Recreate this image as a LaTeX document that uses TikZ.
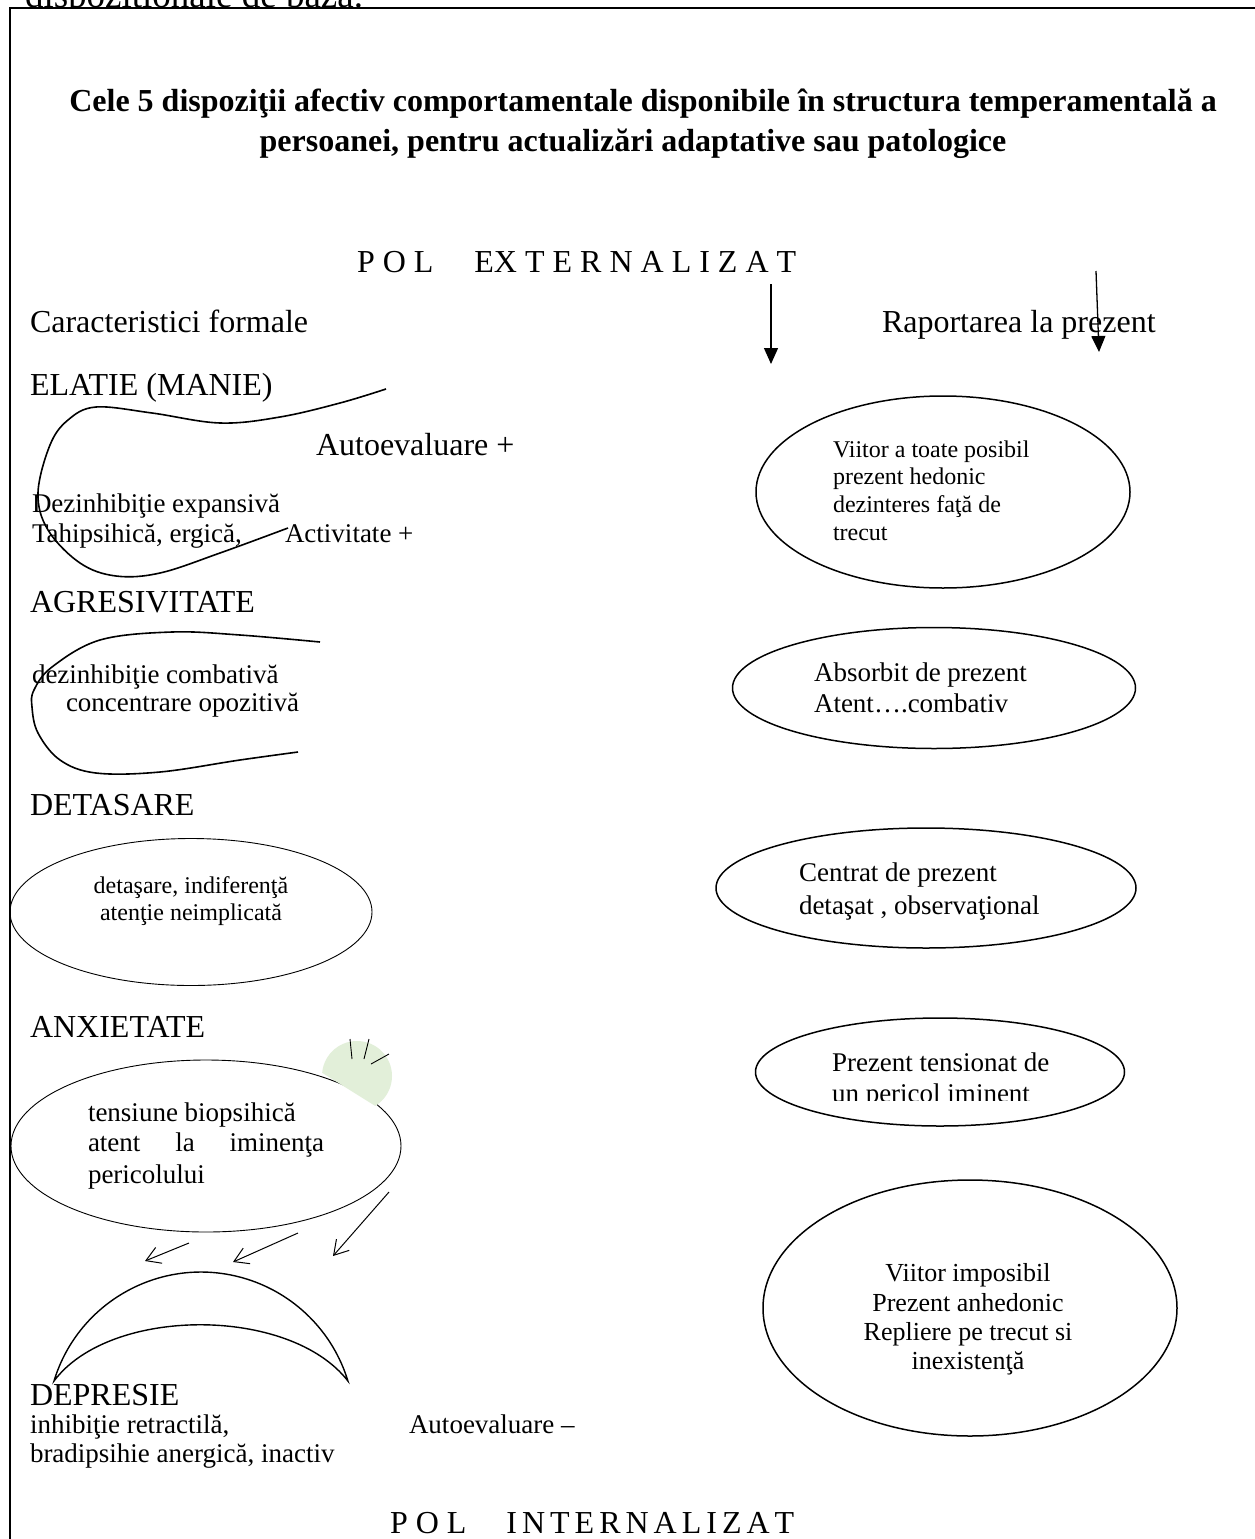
\documentclass[tikz,border=0pt]{standalone}
\usepackage{fontspec}
\setmainfont{Liberation Serif}
\usetikzlibrary{arrows.meta,shapes.geometric}
\newcommand{\szbig}{\fontsize{32pt}{38pt}\selectfont}
\newcommand{\szmid}{\fontsize{27pt}{31pt}\selectfont}
\newcommand{\szsmall}{\fontsize{24pt}{28pt}\selectfont}
\newcommand{\szoval}{\fontsize{26pt}{30pt}\selectfont}
\newcommand{\szprev}{\fontsize{37pt}{44pt}\selectfont}
\definecolor{leafgreen}{HTML}{E2EFD9}
\begin{document}
\begin{tikzpicture}[x=1pt,y=-1pt,
  lbl/.style={inner sep=0pt,outer sep=0pt,anchor=base west},
  lblc/.style={inner sep=0pt,outer sep=0pt,anchor=base},
  boldcurve/.style={line width=1.6pt},
  finecurve/.style={line width=0.9pt},
  oval/.style={draw,ellipse,inner sep=0pt,line width=1.5pt},
  fineoval/.style={draw,ellipse,inner sep=0pt,line width=0.9pt},
  downarrow/.style={line width=1.3pt,-{Triangle[length=16pt,width=14pt]}},
  sinkarrow/.style={line width=1pt,-{Straight Barb[length=14pt,width=17pt,line width=1pt]}}]
\useasboundingbox (0,0) rectangle (1255,1539);

% last line of the paragraph above the frame
\node[lbl] (prevline) at (25,8) {\szprev dispoziţionale de bază.};

% frame
\fill[white] (10,8.5) rectangle (1275,1560);
\draw[line width=2pt] (10,1560) -- (10,8) -- (1275,8);

% title
\node[lblc] (title1) at (643,111) {\szbig\bfseries Cele 5 dispoziţii afectiv comportamentale disponibile în structura temperamentală a};
\node[lblc] (title2) at (633,151) {\szbig\bfseries persoanei, pentru actualizări adaptative sau patologice};

% poles and column heads
\node[lbl] (polext) at (357,272) {\szbig P O L\hspace{41pt}EX T E R N A L I Z A T};
\node[lbl] (colleft) at (30,332) {\szbig Caracteristici formale};
\node[lbl] (colright) at (882,332) {\szbig Raportarea la prezent};
\coordinate (arA1) at (771,284);
\coordinate (arA2) at (771,364);
\coordinate (arB1) at (1096,271);
\coordinate (arB2) at (1099,352);
\draw[downarrow] (arA1) -- (arA2);
\draw[downarrow] (arB1) -- (arB2);

% ELATIE
\node[lbl] (elatie) at (30,395) {\szbig ELATIE (MANIE)};
\draw[boldcurve] plot[smooth,tension=0.6] coordinates {(386,389) (340,403) (280,417) (220,423) (152,413) (96,407) (68,420) (50,445) (38,493) (48,530) (80,563) (116,576) (160,573) (220,553) (288,528)};
\node[lbl] (autoplus) at (316,455) {\szbig Autoevaluare +};
\node[lbl] (elat1) at (32,512) {\szmid Dezinhibiţie expansivă};
\node[lbl] (elat2) at (32,542) {\szmid Tahipsihică, ergică,};
\node[lbl] (activ) at (285,542) {\szmid Activitate +};

% AGRESIVITATE
\node[lbl] (agres) at (30,612) {\szbig AGRESIVITATE};
\draw[boldcurve] plot[smooth,tension=0.6] coordinates {(320,642) (240,635) (172,632) (100,640) (52,667) (34,690) (32,707) (38,733) (60,760) (96,773) (160,772) (240,760) (298,752)};
\node[lbl] (agr1) at (32,683) {\szmid dezinhibiţie combativă};
\node[lbl] (agr2) at (66,711) {\szmid concentrare opozitivă};

% DETASARE
\node[lbl] (detas) at (30,815) {\szbig DETASARE};
\node[fineoval,minimum width=362pt,minimum height=147pt] (detoval) at (191,912) {};
\node[lblc] (det1) at (191,893) {\szsmall detaşare, indiferenţă};
\node[lblc] (det2) at (191,920) {\szsmall atenţie neimplicată};

% ANXIETATE
\node[lbl] (anx) at (30,1037) {\szbig ANXIETATE};
\node[fineoval,minimum width=390pt,minimum height=172pt] (anxoval) at (206,1146) {};
\begin{scope}
  \clip (300,1058.9) -- (400,1121.4) -- (400,1030) -- (300,1030) -- cycle;
  \fill[leafgreen] (357,1076) circle[radius=35];
\end{scope}
\draw[finecurve] (350,1039) -- (352,1059);
\draw[finecurve] (369,1039) -- (364,1059);
\draw[finecurve] (389,1054) -- (371,1064);
\node[lbl] (anx1) at (88,1121) {\szmid tensiune biopsihică};
\node[lbl] (anx2) at (88,1151) {\szmid\hbox to 236pt{atent\hfill la\hfill iminenţa}};
\node[lbl] (anx3) at (88,1183) {\szmid pericolului};

% arrows sinking towards depression
\coordinate (sk1a) at (189,1243);
\coordinate (sk1b) at (145,1261);
\coordinate (sk2a) at (298,1233);
\coordinate (sk2b) at (233,1262);
\coordinate (sk3a) at (389,1192);
\coordinate (sk3b) at (333,1256);
\draw[sinkarrow] (sk1a) -- (sk1b);
\draw[sinkarrow] (sk2a) -- (sk2b);
\draw[sinkarrow] (sk3a) -- (sk3b);

% DEPRESIE crescent
\draw[line width=1.4pt,line join=miter] (54,1381) arc[start angle=196.9,end angle=343.1,radius=153.6]
  .. controls (290,1306) and (110,1306) .. cycle;
\node[lbl] (depr) at (30,1405) {\szbig DEPRESIE};
\node[lbl] (dep1) at (30,1433) {\szmid inhibiţie retractilă,};
\node[lbl] (dep2) at (30,1462) {\szmid bradipsihie anergică, inactiv};
\node[lbl] (automin) at (409,1433) {\szmid Autoevaluare –};
\node[lbl] (polint) at (390,1533) {\szbig P O L\hspace{40pt}{\spaceskip=5pt I N T E R N A L I Z A T}};

% relation to the present
\node[oval,minimum width=374pt,minimum height=192pt] (futall) at (943,492) {};
\node[lbl] (fa1) at (833,457) {\szsmall Viitor a toate posibil};
\node[lbl] (fa2) at (833,484) {\szsmall prezent hedonic};
\node[lbl] (fa3) at (833,512) {\szsmall dezinteres faţă de};
\node[lbl] (fa4) at (833,540) {\szsmall trecut};

\node[oval,minimum width=403pt,minimum height=121pt] (absorb) at (934,688) {};
\node[lbl] (ab1) at (814,681) {\szmid Absorbit de prezent};
\node[lbl] (ab2) at (814,712) {\szmid Atent….combativ};

\node[oval,minimum width=420pt,minimum height=120pt] (centr) at (926,888) {};
\node[lbl] (ce1) at (799,881) {\szmid Centrat de prezent};
\node[lbl] (ce2) at (799,914) {\szmid detaşat , observaţional};

\node[oval,minimum width=369pt,minimum height=108pt] (tens) at (940,1072) {};
\node[lbl] (te1) at (832,1071) {\szmid Prezent tensionat de};
\begin{scope}
  \clip (800,1070) rectangle (1100,1100);
  \node[lbl] (te2) at (832,1102) {\szmid un pericol iminent};
\end{scope}

\node[oval,minimum width=414pt,minimum height=256pt] (futnone) at (970,1308) {};
\node[lblc] (fn1) at (968,1281) {\szoval Viitor imposibil};
\node[lblc] (fn2) at (968,1311) {\szoval Prezent anhedonic};
\node[lblc] (fn3) at (968,1340) {\szoval Repliere pe trecut si};
\node[lblc] (fn4) at (968,1369) {\szoval inexistenţă};
\end{tikzpicture}
\end{document}
